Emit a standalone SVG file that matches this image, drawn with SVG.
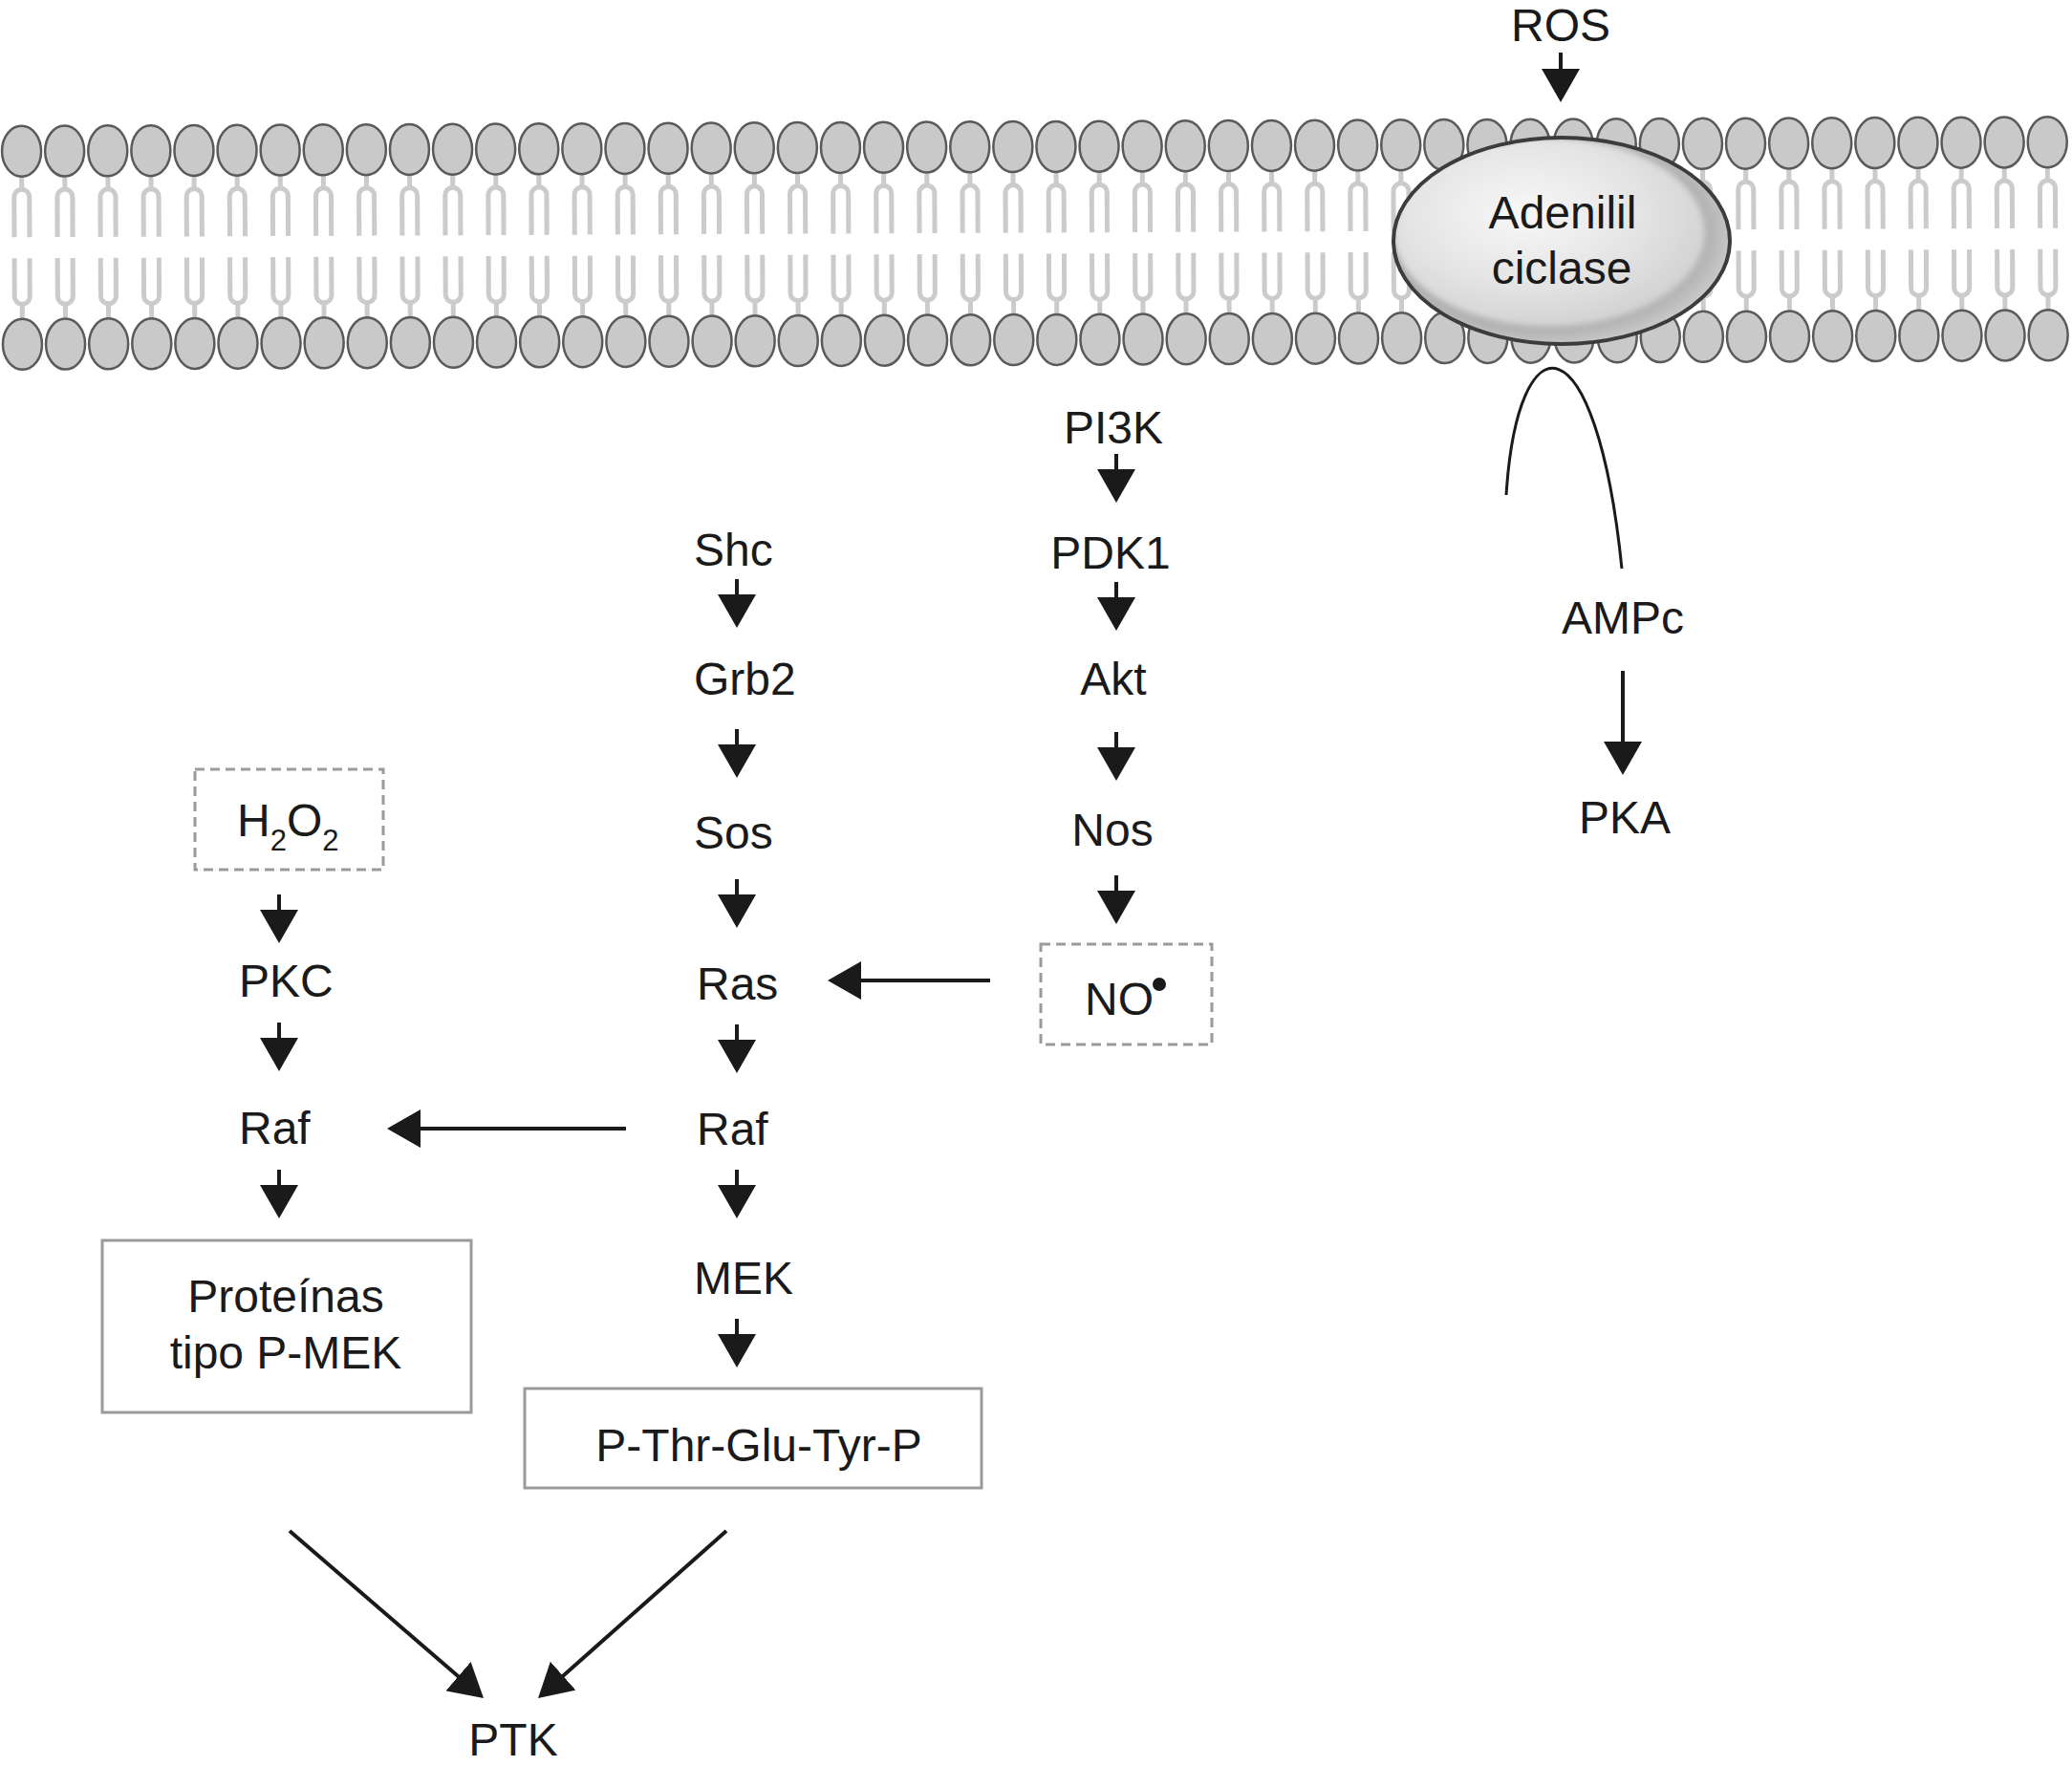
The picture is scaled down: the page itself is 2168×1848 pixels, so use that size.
<svg xmlns="http://www.w3.org/2000/svg" width="2168" height="1848" viewBox="0 0 2168 1848">
<style>
.t{font-family:"Liberation Sans",Arial,Helvetica,sans-serif;font-size:48px;fill:#1a1a1a}
.mid{text-anchor:middle}
.con{stroke:#1a1a1a;stroke-width:4;fill:none;marker-end:url(#ah)}
.box{fill:#fff;stroke:#9a9a9a;stroke-width:3}
.dash{fill:#fff;stroke:#9a9a9a;stroke-width:3;stroke-dasharray:10 6}
.tail{stroke:#cbcbcb;stroke-width:5;fill:none}
.head{fill:#c9c9c9;stroke:#5a5a5a;stroke-width:2.5}
</style>
<defs>
<marker id="ah" markerUnits="userSpaceOnUse" viewBox="0 0 35 40" markerWidth="35" markerHeight="40" refX="31" refY="20" orient="auto">
<path d="M0,0 L35,20 L0,40 Z" fill="#1a1a1a"/>
</marker>
<g id="lipid">
<line class="tail" x1="0" y1="26" x2="0" y2="41"/>
<path class="tail" d="M-8,90 V48 A8,8 0 0 1 8,48 V90"/>
<path class="tail" d="M-8,112 V152 A8,8 0 0 0 8,152 V112"/>
<line class="tail" x1="0" y1="159" x2="0" y2="176"/>
<ellipse class="head" cx="0" cy="0" rx="20.5" ry="26.5"/>
<ellipse class="head" cx="0" cy="202" rx="20.5" ry="26.5"/>
</g>
<radialGradient id="acFill" cx="0.42" cy="0.4" r="0.62">
<stop offset="0" stop-color="#f8f8f8"/>
<stop offset="0.6" stop-color="#e4e4e4"/>
<stop offset="1" stop-color="#d2d2d2"/>
</radialGradient>
<radialGradient id="acRim" cx="0.45" cy="0.45" r="0.56">
<stop offset="0.8" stop-color="#a8a8a8"/>
<stop offset="1" stop-color="#c8c8c8"/>
</radialGradient>
<clipPath id="acClip"><ellipse cx="1634" cy="252" rx="176" ry="108"/></clipPath>
<filter id="soft" x="-10%" y="-10%" width="120%" height="120%"><feGaussianBlur stdDeviation="3"/></filter>
</defs>
<rect width="2168" height="1848" fill="#fff"/>

<g id="membrana" transform="rotate(-0.257 1084 254)">
<use href="#lipid" x="23" y="153.5"/><use href="#lipid" x="68.1" y="153.5"/><use href="#lipid" x="113.2" y="153.5"/><use href="#lipid" x="158.3" y="153.5"/>
<use href="#lipid" x="203.4" y="153.5"/><use href="#lipid" x="248.5" y="153.5"/><use href="#lipid" x="293.6" y="153.5"/><use href="#lipid" x="338.7" y="153.5"/>
<use href="#lipid" x="383.8" y="153.5"/><use href="#lipid" x="428.9" y="153.5"/><use href="#lipid" x="474" y="153.5"/><use href="#lipid" x="519.1" y="153.5"/>
<use href="#lipid" x="564.2" y="153.5"/><use href="#lipid" x="609.3" y="153.5"/><use href="#lipid" x="654.4" y="153.5"/><use href="#lipid" x="699.5" y="153.5"/>
<use href="#lipid" x="744.6" y="153.5"/><use href="#lipid" x="789.7" y="153.5"/><use href="#lipid" x="834.8" y="153.5"/><use href="#lipid" x="879.9" y="153.5"/>
<use href="#lipid" x="925" y="153.5"/><use href="#lipid" x="970.1" y="153.5"/><use href="#lipid" x="1015.2" y="153.5"/><use href="#lipid" x="1060.3" y="153.5"/>
<use href="#lipid" x="1105.4" y="153.5"/><use href="#lipid" x="1150.5" y="153.5"/><use href="#lipid" x="1195.6" y="153.5"/><use href="#lipid" x="1240.7" y="153.5"/>
<use href="#lipid" x="1285.8" y="153.5"/><use href="#lipid" x="1330.9" y="153.5"/><use href="#lipid" x="1376" y="153.5"/><use href="#lipid" x="1421.1" y="153.5"/>
<use href="#lipid" x="1466.2" y="153.5"/><use href="#lipid" x="1511.3" y="153.5"/><use href="#lipid" x="1556.4" y="153.5"/><use href="#lipid" x="1601.5" y="153.5"/>
<use href="#lipid" x="1646.6" y="153.5"/><use href="#lipid" x="1691.7" y="153.5"/><use href="#lipid" x="1736.8" y="153.5"/><use href="#lipid" x="1781.9" y="153.5"/>
<use href="#lipid" x="1827" y="153.5"/><use href="#lipid" x="1872.1" y="153.5"/><use href="#lipid" x="1917.2" y="153.5"/><use href="#lipid" x="1962.3" y="153.5"/>
<use href="#lipid" x="2007.4" y="153.5"/><use href="#lipid" x="2052.5" y="153.5"/><use href="#lipid" x="2097.6" y="153.5"/><use href="#lipid" x="2142.7" y="153.5"/>
</g>

<g id="adenilil-ciclase">
<ellipse cx="1634" cy="252" rx="176" ry="108" fill="url(#acRim)"/>
<g clip-path="url(#acClip)"><ellipse cx="1621" cy="243" rx="163" ry="99" fill="url(#acFill)" filter="url(#soft)"/></g>
<ellipse cx="1634" cy="252" rx="176" ry="108" fill="none" stroke="#3c3c3c" stroke-width="4"/>
<text class="t mid" x="1635" y="239">Adenilil</text>
<text class="t mid" x="1634" y="297">ciclase</text>
</g>

<g id="ros"><text class="t mid" x="1633" y="43">ROS</text></g>
<g id="pi3k"><text class="t mid" x="1165" y="464">PI3K</text></g>
<g id="pdk1"><text class="t mid" x="1162" y="595">PDK1</text></g>
<g id="akt"><text class="t mid" x="1165" y="727">Akt</text></g>
<g id="nos"><text class="t mid" x="1164" y="885">Nos</text></g>
<g id="no">
<rect class="dash" x="1089" y="988" width="179" height="105"/>
<text class="t" x="1135" y="1062">NO</text>
<circle cx="1213" cy="1030" r="7" fill="#1a1a1a"/>
</g>
<g id="shc"><text class="t" x="726" y="592">Shc</text></g>
<g id="grb2"><text class="t" x="726" y="727">Grb2</text></g>
<g id="sos"><text class="t" x="726" y="888">Sos</text></g>
<g id="ras"><text class="t" x="729" y="1046">Ras</text></g>
<g id="raf2"><text class="t" x="729" y="1198">Raf</text></g>
<g id="mek"><text class="t" x="726" y="1354">MEK</text></g>
<g id="pthr">
<rect class="box" x="549" y="1453" width="478" height="104"/>
<text class="t mid" x="794" y="1529">P-Thr-Glu-Tyr-P</text>
</g>
<g id="h2o2">
<rect class="dash" x="204" y="805" width="197" height="105"/>
<text class="t" x="248" y="875">H<tspan font-size="31" dy="15">2</tspan><tspan dy="-15">O</tspan><tspan font-size="31" dy="15">2</tspan></text>
</g>
<g id="pkc"><text class="t" x="250" y="1043">PKC</text></g>
<g id="raf1"><text class="t" x="250" y="1197">Raf</text></g>
<g id="pmek">
<rect class="box" x="107" y="1298" width="386" height="180"/>
<text class="t mid" x="299" y="1373">Proteínas</text>
<text class="t mid" x="299" y="1432">tipo P-MEK</text>
</g>
<g id="ptk"><text class="t mid" x="537" y="1837">PTK</text></g>
<g id="ampc"><text class="t mid" x="1698" y="663">AMPc</text></g>
<g id="pka"><text class="t mid" x="1700" y="872">PKA</text></g>

<g id="connectors">
<line class="con" x1="1633" y1="55" x2="1633" y2="103"/>
<line class="con" x1="1168" y1="475" x2="1168" y2="522"/>
<line class="con" x1="1168" y1="609" x2="1168" y2="656"/>
<line class="con" x1="1168" y1="766" x2="1168" y2="813"/>
<line class="con" x1="1168" y1="916" x2="1168" y2="963"/>
<line class="con" x1="771" y1="606" x2="771" y2="653"/>
<line class="con" x1="771" y1="763" x2="771" y2="810"/>
<line class="con" x1="771" y1="920" x2="771" y2="967"/>
<line class="con" x1="771" y1="1072" x2="771" y2="1119"/>
<line class="con" x1="771" y1="1224" x2="771" y2="1271"/>
<line class="con" x1="771" y1="1380" x2="771" y2="1427"/>
<line class="con" x1="292" y1="936" x2="292" y2="983"/>
<line class="con" x1="292" y1="1070" x2="292" y2="1117"/>
<line class="con" x1="292" y1="1224" x2="292" y2="1271"/>
<line class="con" x1="1036" y1="1026" x2="870" y2="1026" stroke-width="3.5"/>
<line class="con" x1="655" y1="1181" x2="409" y2="1181" stroke-width="3.5"/>
<line class="con" x1="1698" y1="702" x2="1698" y2="807"/>
<line class="con" x1="303" y1="1602" x2="503" y2="1774.4"/>
<line class="con" x1="760" y1="1602" x2="566" y2="1774.3"/>
<path d="M1576,518 C1588,330 1670,330 1697,595" fill="none" stroke="#1a1a1a" stroke-width="3"/>
</g>
</svg>
